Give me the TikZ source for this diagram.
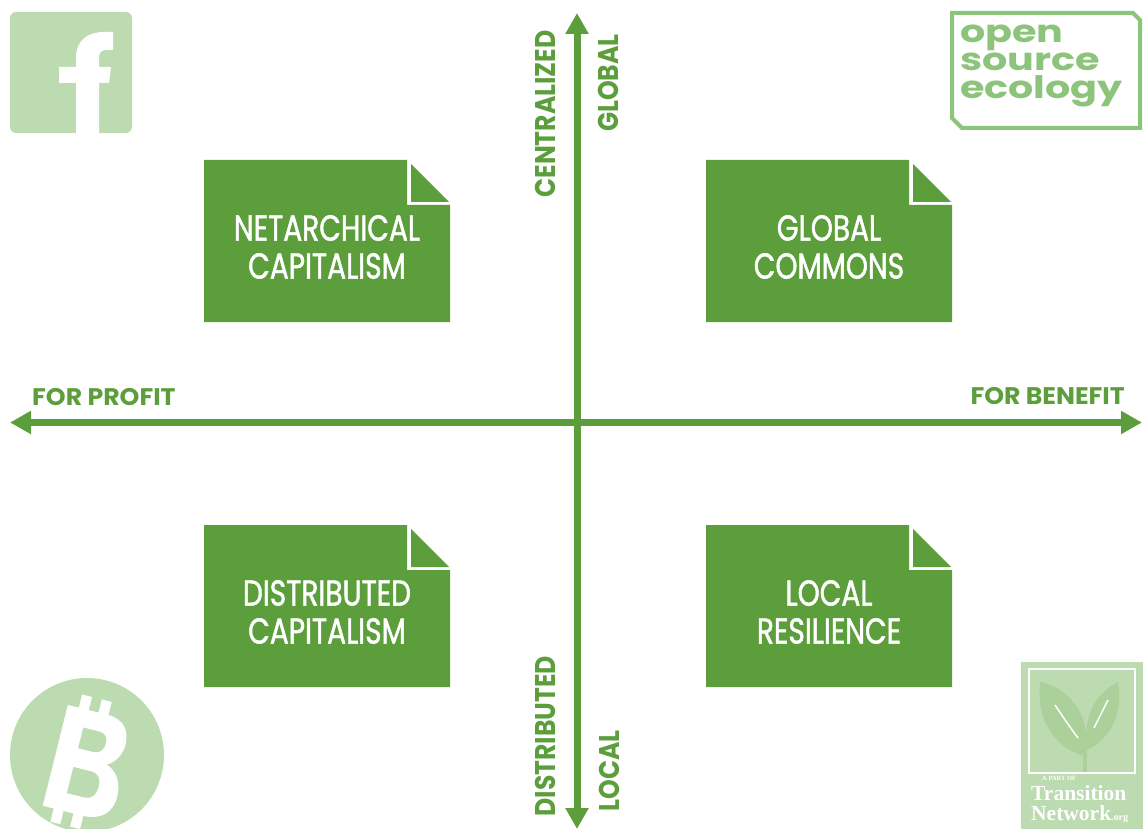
\documentclass[tikz,border=0pt]{standalone}
\usepackage{fontspec}
\setmainfont{Poppins}
\newfontfamily\boxfont[FakeStretch=0.78,FakeBold=1.3]{Poppins}
\newfontfamily\vlabfont[FakeStretch=0.88]{Poppins}
\newfontfamily\hlabfont[FakeStretch=1.05]{Poppins}
\newfontfamily\osefont[FakeStretch=1.28]{Poppins}
\newfontfamily\tnfont{Liberation Serif}
\usetikzlibrary{arrows.meta}
\definecolor{mg}{HTML}{5B9E3B}
\definecolor{lg}{HTML}{BDDBB0}
\definecolor{og}{HTML}{8CC47B}
\definecolor{leafg}{HTML}{ABD09A}
\tikzset{
 quadbox/.style={fill=mg},
 boxtext/.style={text=white, align=center, inner sep=0pt, font=\boxfont\fontsize{36}{38}\selectfont},
 axisline/.style={draw=mg, line width=7pt, {Triangle[length=21pt,width=22pt]}-{Triangle[length=21pt,width=22pt]}},
 vlab/.style={text=mg, rotate=90, inner sep=0pt, font=\vlabfont\bfseries\fontsize{28.5}{30}\selectfont},
 hlab/.style={text=mg, inner sep=0pt, font=\hlabfont\bfseries\fontsize{24}{26}\selectfont},
 logofill/.style={fill=lg},
 tntext/.style={text=white, inner sep=0pt, anchor=base west},
}
\begin{document}
\begin{tikzpicture}[x=1pt,y=-1pt]
\useasboundingbox (0,0) rectangle (1143,829);
\clip (0,0) rectangle (1143,829);

% ---- quadrant boxes ----
\begin{scope}[shift={(204,160)}]
\fill[quadbox] (0,0) -- (203,0) -- (203,45) -- (246,45) -- (246,162) -- (0,162) -- cycle;
\fill[quadbox] (207,4) -- (207,42) -- (245,42) -- cycle;
\node[boxtext] (netcap) at (123,87) {NETARCHICAL\\CAPITALISM};
\end{scope}
\begin{scope}[shift={(706,160)}]
\fill[quadbox] (0,0) -- (203,0) -- (203,45) -- (246,45) -- (246,162) -- (0,162) -- cycle;
\fill[quadbox] (207,4) -- (207,42) -- (245,42) -- cycle;
\node[boxtext] (globcom) at (123,87) {GLOBAL\\COMMONS};
\end{scope}
\begin{scope}[shift={(204,525)}]
\fill[quadbox] (0,0) -- (203,0) -- (203,45) -- (246,45) -- (246,162) -- (0,162) -- cycle;
\fill[quadbox] (207,4) -- (207,42) -- (245,42) -- cycle;
\node[boxtext] (distcap) at (123,87) {DISTRIBUTED\\CAPITALISM};
\end{scope}
\begin{scope}[shift={(706,525)}]
\fill[quadbox] (0,0) -- (203,0) -- (203,45) -- (246,45) -- (246,162) -- (0,162) -- cycle;
\fill[quadbox] (207,4) -- (207,42) -- (245,42) -- cycle;
\node[boxtext] (locres) at (123,87) {LOCAL\\RESILIENCE};
\end{scope}

% ---- axes ----
\coordinate (west) at (10,422.5);
\coordinate (east) at (1142,422.5);
\coordinate (north) at (577,13);
\coordinate (south) at (577,829);
\draw[axisline] (west) -- (east);
\draw[axisline] (south) -- (north);

\node[hlab, anchor=base west] (profit) at (32,405) {FOR PROFIT};
\node[hlab, anchor=base east] (benefit) at (1125,404) {FOR BENEFIT};
\node[vlab] (central) at (545,114) {CENTRALIZED};
\node[vlab] (global) at (608,83) {GLOBAL};
\node[vlab] (distrib) at (545,736) {DISTRIBUTED};
\node[vlab] (local) at (609,771) {LOCAL};

% ---- facebook logo ----
\fill[logofill, rounded corners=6pt] (10,12) rectangle (132,133);
\fill[white] (76,133) -- (76,83) -- (59,83) -- (59,67) -- (76,67) -- (76,58)
  .. controls (76,40) and (88,32) .. (104,32) -- (113,32) -- (113,50) -- (106,50)
  .. controls (101,50) and (99,53) .. (99,58) -- (99,67) -- (111,67) -- (109,83)
  -- (99,83) -- (99,133) -- cycle;

% ---- open source ecology logo ----
\draw[og, line width=4pt, line join=miter] (952,13) -- (1133,13) -- (1140,20) -- (1140,128) -- (962,128) -- (952,118) -- cycle;
\node[text=og, inner sep=0pt, anchor=north west, align=left,
  font=\osefont\bfseries\fontsize{31}{28}\selectfont] (ose) at (960,25) {open\\source\\ecology};

% ---- bitcoin logo ----
\fill[logofill] (87,755) circle (77);
\begin{scope}[shift={(86,763)}, rotate=-14, scale=1.13]
\fill[white, even odd rule] (-28,-46) -- (8,-46) .. controls (24,-46) and (30,-36) .. (30,-24)
  .. controls (30,-14) and (24,-6) .. (18,-3) .. controls (28,0) and (34,10) .. (34,22)
  .. controls (34,38) and (24,46) .. (8,46) -- (-28,46) -- cycle
  (-10,-30) -- (4,-30) .. controls (10,-30) and (13,-27) .. (13,-21)
  .. controls (13,-15) and (10,-11) .. (4,-11) -- (-10,-11) -- cycle
  (-10,6) -- (6,6) .. controls (13,6) and (16,10) .. (16,18)
  .. controls (16,26) and (12,30) .. (6,30) -- (-10,30) -- cycle;
\fill[white] (-18,-58) rectangle (-9,-45);
\fill[white] (0,-58) rectangle (9,-45);
\fill[white] (-18,45) rectangle (-9,58);
\fill[white] (0,45) rectangle (9,58);
\end{scope}

% ---- transition network logo ----
\fill[logofill] (1021,662) rectangle (1143,829);
\draw[white, line width=2.5pt] (1029,669) rectangle (1135,773);
\fill[leafg] (1084,756) .. controls (1056,748) and (1036,722) .. (1040,682)
  .. controls (1072,688) and (1094,722) .. (1084,756) -- cycle;
\fill[leafg] (1087,750) .. controls (1083,720) and (1093,694) .. (1118,682)
  .. controls (1123,712) and (1112,738) .. (1087,750) -- cycle;
\draw[leafg, line width=4pt] (1085,745) -- (1085,772);
\draw[white, line width=1.5pt] (1055,705) .. controls (1065,720) and (1072,730) .. (1078,738);
\draw[white, line width=1.5pt] (1108,700) .. controls (1102,712) and (1098,720) .. (1094,728);
\node[tntext, font=\tnfont\bfseries\fontsize{6.5}{7}\selectfont] (tn0) at (1042,780) {A PART OF};
\node[tntext, font=\tnfont\bfseries\fontsize{21.5}{22}\selectfont] (tn1) at (1031,800) {Transition};
\node[tntext, font=\tnfont\bfseries\fontsize{21.5}{22}\selectfont] (tn2) at (1031,820) {Network{\fontsize{10}{10}\selectfont.org}};
\end{tikzpicture}
\end{document}
